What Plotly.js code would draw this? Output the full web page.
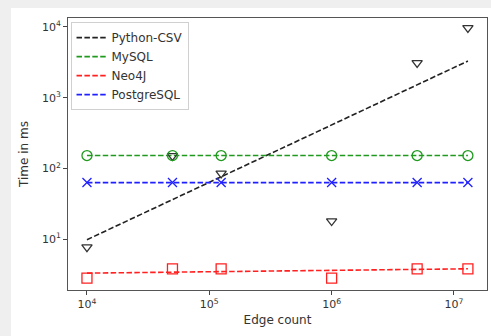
<!DOCTYPE html>
<html>
<head>
<meta charset="utf-8">
<script src="https://cdn.plot.ly/plotly-3.0.1.min.js"></script>
<style>
  html, body { margin: 0; padding: 0; width: 491px; height: 336px; overflow: hidden; background: #efefef; }
  #chart { position: absolute; left: 11px; top: 8px; width: 480px; height: 328px; background: #fff; }
</style>
</head>
<body>
<div id="chart"></div>
<script>
// Measured points
const edges = [1e4, 5e4, 1.25e5, 1e6, 5e6, 1.3e7];
const pythonCsv = [7.7, 150, 85, 18, 3100, 9700];
const mysql = [152, 152, 152, 152, 152, 152];
const neo4j = [2.8, 3.8, 3.8, 2.8, 3.8, 3.8];
const postgres = [63, 63, 63, 63, 63, 63];

// Fitted lines (end points)
const fitEdges = [1e4, 1.3e7];
const pythonFit = [9.8, 3300];
const mysqlFit = [152, 152];
const neo4jFit = [3.3, 3.8];
const postgresFit = [63, 63];

// Tick labels
const xTickVals = [1e4, 1e5, 1e6, 1e7];
const xTickText = ['10<sup>4</sup>', '10<sup>5</sup>', '10<sup>6</sup>', '10<sup>7</sup>'];
const yTickVals = [10, 100, 1000, 10000];
const yTickText = ['10<sup>1</sup>', '10<sup>2</sup>', '10<sup>3</sup>', '10<sup>4</sup>'];

const dash = '5.5px,2.4px';
const names = ['Python-CSV', 'MySQL', 'Neo4J', 'PostgreSQL'];
const colors = ['#222222', '#1f9a1f', '#ff2020', '#2020ff'];
const fits = [pythonFit, mysqlFit, neo4jFit, postgresFit];
const pts = [pythonCsv, mysql, neo4j, postgres];
const symbols = ['triangle-down-open', 'circle-open', 'square-open', 'x-thin-open'];
const sizes = [9, 10, 10, 9];

const traces = [];
for (let i = 0; i < 4; i++) {
  traces.push({
    x: fitEdges, y: fits[i], mode: 'lines', name: names[i],
    line: {color: colors[i], width: 1.6, dash: dash}, showlegend: true
  });
}
for (let i = 0; i < 4; i++) {
  traces.push({
    x: edges, y: pts[i], mode: 'markers', name: names[i] + ' pts', showlegend: false,
    marker: {symbol: symbols[i], size: sizes[i], color: i === 0 ? '#333333' : colors[i],
             line: {color: i === 0 ? '#333333' : colors[i], width: 1.3}}
  });
}

const layout = {
  width: 480, height: 328,
  margin: {l: 57, r: 4, t: 10, b: 46},
  paper_bgcolor: '#ffffff', plot_bgcolor: '#ffffff',
  font: {family: 'DejaVu Sans, sans-serif', size: 11, color: '#333'},
  showlegend: true,
  legend: {
    x: 0.006, y: 0.985, xanchor: 'left', yanchor: 'top',
    bgcolor: 'rgba(255,255,255,0.8)', bordercolor: '#d0d0d0', borderwidth: 1,
    font: {size: 12, color: '#333'}, tracegroupgap: 0, itemwidth: 30
  },
  xaxis: {
    type: 'log', range: [3.845, 7.27],
    tickvals: xTickVals, ticktext: xTickText,
    ticks: 'outside', ticklen: 4, tickcolor: '#444',
    showline: true, mirror: true, linecolor: '#555', linewidth: 1,
    showgrid: false, zeroline: false,
    tickfont: {size: 11, color: '#333'},
    title: {text: 'Edge count', font: {size: 12, color: '#333'}, standoff: 5}
  },
  yaxis: {
    type: 'log', range: [0.28, 4.127],
    tickvals: yTickVals, ticktext: yTickText,
    ticks: 'outside', ticklen: 4, tickcolor: '#444',
    showline: true, mirror: true, linecolor: '#555', linewidth: 1,
    showgrid: false, zeroline: false,
    tickfont: {size: 11, color: '#333'},
    title: {text: 'Time in ms', font: {size: 12, color: '#333'}, standoff: 10}
  }
};

Plotly.newPlot('chart', traces, layout, {displayModeBar: false, staticPlot: true});
</script>
</body>
</html>
